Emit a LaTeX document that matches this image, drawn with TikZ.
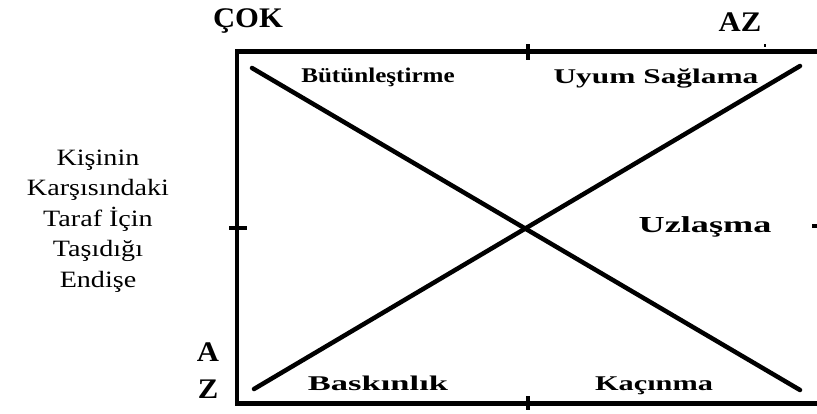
\documentclass[tikz,border=0pt]{standalone}
\usepackage{fontspec}
\usepackage{graphicx}
\setmainfont{Liberation Serif}
\newfontfamily\widefont[FakeStretch=1.2]{Liberation Serif}
\newfontfamily\capfont[FakeStretch=1.08]{Liberation Serif}
\newcommand\wx[2]{\scalebox{#1}[1]{#2}}
\begin{document}
\begin{tikzpicture}[x=1bp,y=-1bp,
  frame/.style={line width=4.5bp, line join=miter},
  diag/.style={line width=4.5bp, line cap=round},
  tick/.style={line width=4.5bp},
  lbl/.style={font=\bfseries\fontsize{21}{25}\selectfont, inner sep=0pt, anchor=base},
  axis/.style={font=\capfont\bfseries\fontsize{28.5}{30}\selectfont, inner sep=0pt},
  side/.style={font=\widefont\fontsize{23.5}{30.5}\selectfont, align=center, inner sep=0pt}]
\useasboundingbox (0,0) rectangle (817,413);
% frame
\coordinate (tr) at (817,51.5);
\coordinate (tl) at (237,51.5);
\coordinate (bl) at (237,403.5);
\coordinate (br) at (817,403.5);
\draw[frame] (tr) -- (tl) -- (bl) -- (br);
% ticks
\draw[tick] (528,44) -- (528,60);
\draw[tick] (528,396) -- (528,410);
\draw[tick] (229,228) -- (247,228);
\draw[tick] (812,226) -- (817,226);
\draw[line width=2bp] (765,44) -- (765,47);
% diagonals
\coordinate (d1a) at (252,68);
\coordinate (d1b) at (800,390);
\coordinate (d2a) at (254,389);
\coordinate (d2b) at (800,66);
\draw[diag] (d1a) -- (d1b);
\draw[diag] (d2a) -- (d2b);
% axis labels
\node[axis] (cok) at (248,21) {ÇOK};
\node[axis] (az) at (740,22) {AZ};
\node[axis] (a) at (208,352) {A};
\node[axis] (z) at (208,389) {Z};
% side text
\node[side] (side) at (98,221) {Kişinin\\Karşısındaki\\Taraf İçin\\Taşıdığı\\Endişe};
% box labels
\node[lbl] (but) at (378,82) {\wx{1.2}{Bütünleştirme}};
\node[lbl] (uyum) at (656,83) {\wx{1.5}{Uyum Sağlama}};
\node[lbl, font=\bfseries\fontsize{23}{25}\selectfont] (uzl) at (705,232) {\wx{1.58}{Uzlaşma}};
\node[lbl] (bas) at (378,390) {\wx{1.65}{Baskınlık}};
\node[lbl] (kac) at (654,390) {\wx{1.45}{Kaçınma}};
\end{tikzpicture}
\end{document}
